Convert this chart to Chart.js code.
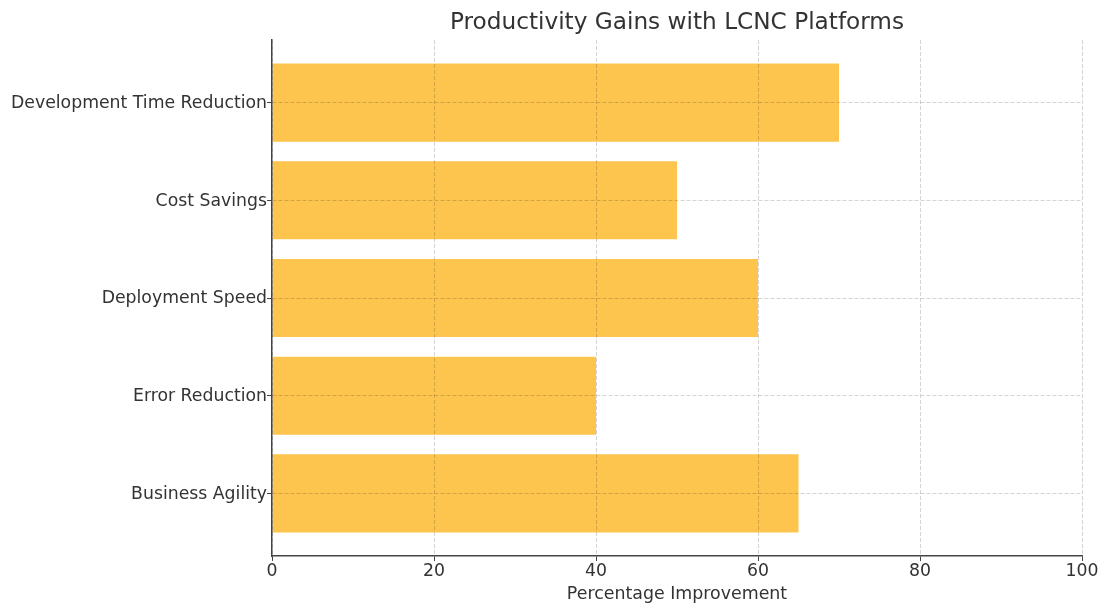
<!DOCTYPE html>
<html>
<head>
<meta charset="utf-8">
<title>Productivity Gains with LCNC Platforms</title>
<script src="https://cdn.jsdelivr.net/npm/chart.js@4"></script>
<style>
  html, body { margin: 0; padding: 0; background: #ffffff; }
  #wrap { width: 1102px; height: 605px; }
</style>
</head>
<body>
<div id="wrap"><canvas id="chart" width="1102" height="605"></canvas></div>
<script>
// Categories, top to bottom
const categories = [
  'Development Time Reduction',
  'Cost Savings',
  'Deployment Speed',
  'Error Reduction',
  'Business Agility'
];
// Percentage improvement per category
const improvement = [70, 50, 60, 40, 65];
// Value axis tick marks
const xTicks = [0, 20, 40, 60, 80, 100];

const chartTitle = 'Productivity Gains with LCNC Platforms';
const textColor = '#333333';
const axisColor = '#444444';
const gridColor = 'rgba(0,0,0,0.17)';
const fontFamily = '"DejaVu Sans", "Liberation Sans", sans-serif';

const points = improvement.map((v, i) => ({ x: v, y: i }));

// Title centred over the plotting area rather than the whole canvas
const plotTitle = {
  id: 'plotTitle',
  afterDraw(chart) {
    const { ctx, chartArea } = chart;
    ctx.save();
    ctx.fillStyle = textColor;
    ctx.font = '23.2px ' + fontFamily;
    ctx.textAlign = 'center';
    ctx.textBaseline = 'middle';
    ctx.fillText(chartTitle, (chartArea.left + chartArea.right) / 2, 23);
    ctx.restore();
  }
};

new Chart(document.getElementById('chart'), {
  type: 'bar',
  data: {
    datasets: [{
      label: 'Percentage Improvement',
      data: points,
      backgroundColor: '#FDC54E',
      borderWidth: 0,
      barPercentage: 0.8,
      categoryPercentage: 1.0
    }]
  },
  plugins: [plotTitle],
  options: {
    indexAxis: 'y',
    responsive: false,
    animation: false,
    layout: { padding: { left: 0, right: 20, top: 40, bottom: 0 } },
    plugins: {
      legend: { display: false },
      tooltip: { enabled: false },
      title: { display: false }
    },
    scales: {
      x: {
        type: 'linear',
        min: 0,
        max: 100,
        z: 1,
        afterBuildTicks: (scale) => { scale.ticks = xTicks.map(v => ({ value: v })); },
        afterFit: (scale) => { scale.height = 49; },
        ticks: {
          color: textColor,
          font: { family: fontFamily, size: 17.3 },
          padding: 0,
          maxRotation: 0
        },
        grid: {
          z: 1,
          color: gridColor,
          lineWidth: 1,
          drawTicks: true,
          tickLength: 5,
          tickColor: axisColor,
          tickWidth: 1
        },
        border: { display: true, z: 1, color: axisColor, width: 1.5, dash: [4, 2] },
        title: {
          display: true,
          text: 'Percentage Improvement',
          color: textColor,
          font: { family: fontFamily, size: 17.4 },
          padding: { top: 0, bottom: 0 }
        }
      },
      y: {
        type: 'linear',
        min: -0.64,
        max: 4.64,
        reverse: true,
        offset: false,
        z: 1,
        afterBuildTicks: (scale) => { scale.ticks = categories.map((c, i) => ({ value: i })); },
        afterFit: (scale) => { scale.width = 272; },
        ticks: {
          color: textColor,
          font: { family: fontFamily, size: 17.3 },
          padding: 0,
          labelOffset: 1,
          callback: (value) => categories[value]
        },
        grid: {
          z: 1,
          offset: false,
          color: gridColor,
          lineWidth: 1,
          drawTicks: true,
          tickLength: 5,
          tickColor: axisColor,
          tickWidth: 1
        },
        border: { display: true, z: 1, color: axisColor, width: 1.5, dash: [4, 2] }
      }
    }
  }
});
</script>
</body>
</html>
